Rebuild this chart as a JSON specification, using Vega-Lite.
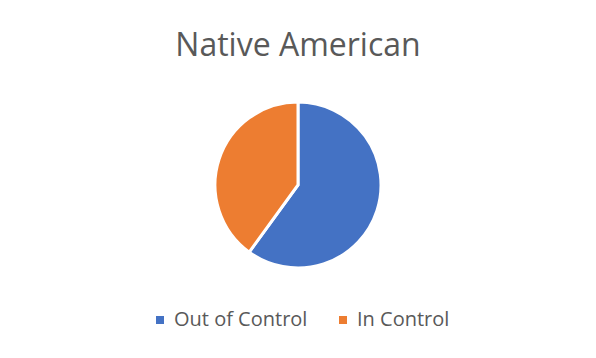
{
  "$schema": "https://vega.github.io/schema/vega-lite/v6.json",
  "autosize": "none",
  "width": 596,
  "height": 370,
  "padding": 0,
  "background": "white",
  "config": {"view": {"stroke": "#d9d9d9", "strokeWidth": 2}},
  "title": {
    "text": "Native American",
    "font": "Open Sans",
    "fontSize": 32,
    "fontWeight": "normal",
    "color": "#595959",
    "baseline": "alphabetic",
    "anchor": "middle",
    "offset": -88
  },
  "data": {
    "values": [
      {"category": "Out of Control", "value": 60},
      {"category": "In Control", "value": 40}
    ]
  },
  "mark": {"type": "arc", "outerRadius": 83, "stroke": "white", "strokeWidth": 3},
  "encoding": {
    "theta": {"field": "value", "type": "quantitative", "stack": true},
    "order": {"field": "category", "sort": "descending"},
    "color": {
      "field": "category",
      "type": "nominal",
      "scale": {"domain": ["Out of Control", "In Control"], "range": ["#4472C4", "#ED7D31"]},
      "legend": {
        "title": null,
        "orient": "none",
        "legendX": 150,
        "legendY": 310,
        "direction": "horizontal",
        "padding": 0,
        "symbolType": "square",
        "symbolSize": 64,
        "symbolStrokeWidth": 0,
        "labelFont": "Open Sans",
        "labelFontSize": 20,
        "labelColor": "#595959",
        "labelOffset": 4,
        "columnPadding": 25
      }
    }
  }
}
